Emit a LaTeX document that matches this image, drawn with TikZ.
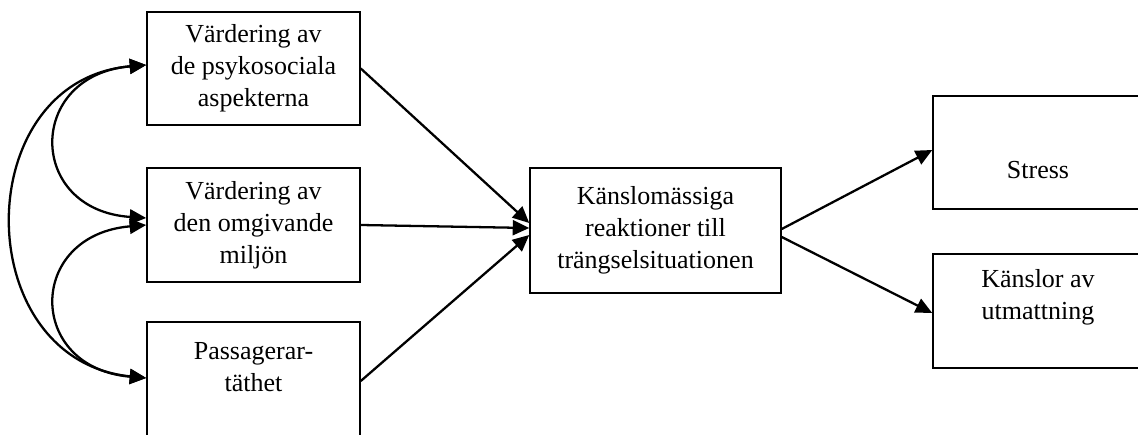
\documentclass[tikz,border=0pt]{standalone}
\usepackage{fontspec}
\setmainfont{Liberation Serif}
\usepackage{tikz}
\usetikzlibrary{arrows.meta,positioning}

\begin{document}
\begin{tikzpicture}[x=0.02cm,y=-0.02cm, font=\fontsize{14.8}{18.2}\selectfont,
    box/.style={draw, line width=0.9pt, rectangle, align=center, inner sep=0pt,
        minimum width=4.26cm, minimum height=2.26cm},
    txt/.style={align=center, inner sep=0pt},
    pil/.style={->, line width=1.3pt},
    >={Triangle[length=0.33cm,width=0.3cm]}]

    \path[use as bounding box, clip] (0,0) rectangle (1138,435);

    % left column
    \node[box] (vpsyk) at (253.5,68.5) {Värdering av\\de psykosociala\\aspekterna};
    \node[box, minimum height=2.28cm] (vmiljo) at (253.5,225) {Värdering av\\den omgivande\\miljön};
    \node[box, minimum height=2.36cm] (tathet) at (253.5,381) {};
    \node[txt] (tathettxt) at (253.5,367) {Passagerar-\\täthet};

    % middle
    \node[box, minimum width=5.02cm, minimum height=2.5cm] (reakt) at (655.5,230.5)
        {Känslomässiga\\reaktioner till\\trängselsituationen};

    % right column
    \node[box, minimum width=4.2cm] (stress) at (1038,152.5) {};
    \node[txt] (stresstxt) at (1038,170) {Stress};
    \node[box, minimum width=4.2cm, minimum height=2.28cm] (utmatt) at (1038,311) {};
    \node[txt] (utmatttxt) at (1038,297.5) {Känslor av\\utmattning};

    \draw[pil] (vpsyk.east) -- ([yshift=0.15cm]reakt.west);
    \draw[pil] (vmiljo.east) -- ([yshift=0.05cm]reakt.west);
    \draw[pil] (tathet.east) -- ([yshift=-0.09cm]reakt.west);
    \draw[pil] ([yshift=0.03cm]reakt.east) -- ([yshift=0.05cm]stress.west);
    \draw[pil] ([yshift=-0.13cm]reakt.east) -- ([yshift=-0.04cm]utmatt.west);

    % correlations
    \draw[pil, <->] ([yshift=0.07cm]vpsyk.west) .. controls +(-120,10) and +(-120,-8) .. ([yshift=0.14cm]vmiljo.west);
    \draw[pil, <->] ([yshift=0.07cm]vpsyk.west) .. controls +(-178,15) and +(-178,-18) .. ([yshift=0.06cm]tathet.west);
    \draw[pil, <->] (vmiljo.west) .. controls +(-120,10) and +(-120,-10) .. ([yshift=0.06cm]tathet.west);
\end{tikzpicture}
\end{document}
